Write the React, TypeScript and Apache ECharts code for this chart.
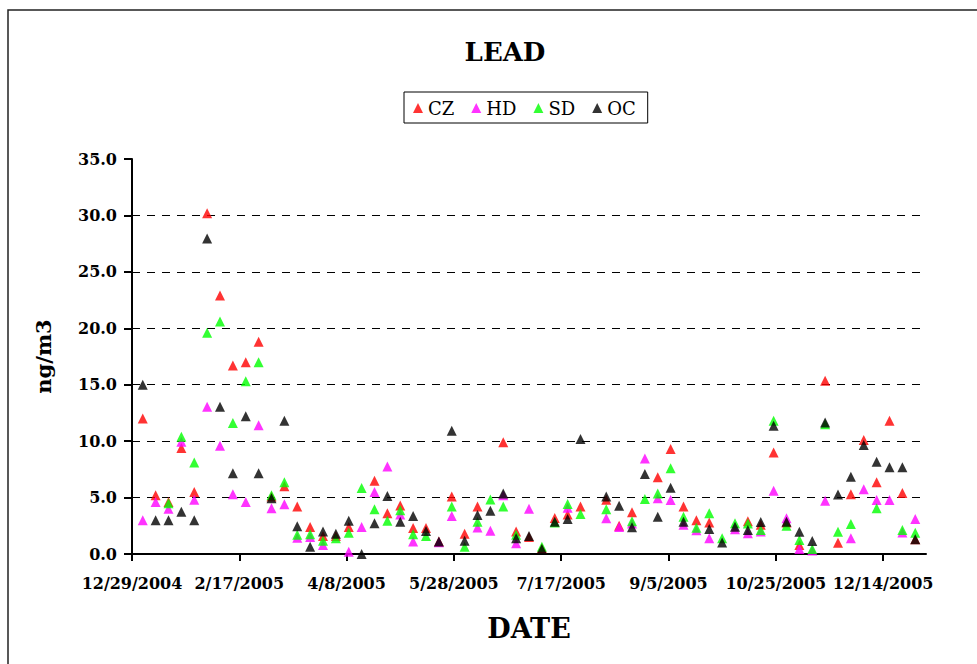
import React, { useEffect, useRef } from "react";
import * as echarts from "echarts";

const sampleDates = [
  "1/3/2005", "1/9/2005", "1/15/2005", "1/21/2005", "1/27/2005",
  "2/2/2005", "2/8/2005", "2/14/2005", "2/20/2005", "2/26/2005",
  "3/4/2005", "3/10/2005", "3/16/2005", "3/22/2005", "3/28/2005",
  "4/3/2005", "4/9/2005", "4/15/2005", "4/21/2005", "4/27/2005",
  "5/3/2005", "5/9/2005", "5/15/2005", "5/21/2005", "5/27/2005",
  "6/2/2005", "6/8/2005", "6/14/2005", "6/20/2005", "6/26/2005",
  "7/2/2005", "7/8/2005", "7/14/2005", "7/20/2005", "7/26/2005",
  "8/1/2005", "8/7/2005", "8/13/2005", "8/19/2005", "8/25/2005", "8/31/2005",
  "9/6/2005", "9/12/2005", "9/18/2005", "9/24/2005", "9/30/2005",
  "10/6/2005", "10/12/2005", "10/18/2005", "10/24/2005", "10/30/2005",
  "11/5/2005", "11/11/2005", "11/17/2005", "11/23/2005", "11/29/2005",
  "12/5/2005", "12/11/2005", "12/17/2005", "12/23/2005", "12/29/2005",
];

const CZ = [
  12.0, 5.2, 4.6, 9.4, 5.5, 30.2, 22.9, 16.7, 17.0, 18.8,
  5.1, 6.0, 4.2, 2.4, 1.6, 1.6, 2.4, null, 6.5, 3.6,
  4.3, 2.3, 2.3, 1.1, 5.1, 1.8, 4.2, null, 9.9, 2.0,
  1.5, 0.5, 3.2, 3.5, 4.2, null, 4.8, 2.5, 3.7, null,
  6.8, 9.3, 4.2, 3.0, 2.8, null, null, 2.9, 2.6, 9.0,
  2.8, 0.8, null, 15.35, 1.0, 5.3, 10.1, 6.35, 11.8, 5.4, 1.3,
];
const HD = [
  3.0, 4.6, 4.0, 9.95, 4.8, 13.05, 9.6, 5.3, 4.6, 11.4,
  4.05, 4.4, 1.45, 1.5, 0.8, null, 0.2, 2.4, 5.5, 7.75,
  3.5, 1.1, null, 1.05, 3.37, null, 2.35, 2.05, 5.2, 0.95,
  4.0, null, null, 4.1, null, null, 3.16, 2.4, 2.7, 8.47,
  4.93, 4.78, 2.6, 2.1, 1.39, null, 2.2, 1.83, 2.0, 5.61,
  3.16, 0.44, 0.3, 4.72, null, 1.39, 5.73, 4.78, 4.78, 1.9, 3.1,
];
const SD = [
  null, null, 4.5, 10.4, 8.1, 19.6, 20.6, 11.6, 15.3, 17.0,
  5.2, 6.35, 1.7, 1.74, 1.18, 1.39, 1.89, 5.85, 3.96, 2.95,
  3.87, 1.76, 1.6, null, 4.2, 0.65, 2.86, 4.84, 4.2, 1.7,
  null, 0.65, 2.8, 4.42, 3.54, null, 3.96, null, 2.9, 4.87,
  5.37, 7.59, 3.31, 2.33, 3.6, 1.39, 2.72, 2.7, 2.13, 11.81,
  2.51, 1.24, 0.44, 11.5, 1.98, 2.66, null, 4.05, null, 2.13, 1.89,
];
const OC = [
  15.0, 3.0, 3.0, 3.75, 3.0, 27.96, 13.05, 7.15, 12.2, 7.15,
  4.95, 11.8, 2.45, 0.65, 2.0, 1.8, 2.95, 0.0, 2.72, 5.14,
  2.86, 3.37, 2.04, 1.1, 10.92, 1.18, 3.45, 3.84, 5.37, 1.39,
  1.6, 0.44, 2.86, 3.1, 10.2, null, 5.1, 4.27, 2.38, 7.09,
  3.31, 5.87, 2.86, null, 2.21, 1.03, 2.42, 2.13, 2.83, 11.37,
  2.86, 1.98, 1.15, 11.66, 5.28, 6.85, 9.65, 8.18, 7.68, 7.68, 1.3,
];

const seriesNames = ["CZ", "HD", "SD", "OC"];
const seriesColors = ["#FF0000", "#FF00FF", "#00FF00", "#000000"];
const seriesValues = [CZ, HD, SD, OC];

const axisStartDate = "12/29/2004";
const axisSpanDays = 370;
const axisStepDays = 50;

const DAY = 86400000;
function parseDate(s: string): number {
  const [m, d, y] = s.split("/").map(Number);
  return Date.UTC(y, m - 1, d);
}
const origin = parseDate(axisStartDate);
function toDay(s: string): number {
  return Math.round((parseDate(s) - origin) / DAY);
}
function dayLabel(v: number): string {
  const dt = new Date(origin + v * DAY);
  return `${dt.getUTCMonth() + 1}/${dt.getUTCDate()}/${dt.getUTCFullYear()}`;
}

const FONT = "DejaVu Serif";

export default function App() {
  const ref = useRef<HTMLDivElement>(null);
  useEffect(() => {
    if (!ref.current) return;
    const chart = echarts.init(ref.current, null, { renderer: "svg" });
    const xTickVals: number[] = [];
    for (let v = 0; v < axisSpanDays; v += axisStepDays) xTickVals.push(v);

    const series = seriesNames.map((name, i) => ({
      name,
      type: "scatter",
      symbol: "triangle",
      symbolSize: [10, 10],
      itemStyle: { color: seriesColors[i] },
      data: sampleDates
        .map((d, k) => [toDay(d), seriesValues[i][k]])
        .filter((p) => p[1] !== null && p[1] !== undefined),
      z: 2 + i,
    }));

    chart.setOption({
      animation: false,
      backgroundColor: "#ffffff",
      title: {
        text: "LEAD",
        left: 500,
        top: 34,
        textAlign: "center",
        textStyle: { fontFamily: FONT, fontWeight: "bold", fontSize: 26, color: "#000" },
      },
      legend: {
        data: seriesNames,
        left: 404,
        top: 92,
        icon: "triangle",
        itemWidth: 10,
        itemHeight: 10,
        itemGap: 17,
        padding: [7, 12, 6, 9],
        borderColor: "#000",
        borderWidth: 1,
        textStyle: { fontFamily: FONT, fontSize: 18, color: "#000" },
      },
      grid: { left: 132, right: 51, top: 159, bottom: 110, containLabel: false },
      xAxis: {
        type: "value",
        min: 0,
        max: axisSpanDays,
        interval: axisStepDays,
        name: "DATE",
        nameLocation: "middle",
        nameGap: 61,
        nameTextStyle: { fontFamily: FONT, fontWeight: "bold", fontSize: 27, color: "#000" },
        axisLine: { show: true, lineStyle: { color: "#000", width: 2 } },
        axisTick: { show: true, length: 7, lineStyle: { color: "#000", width: 2 }, customValues: xTickVals },
        axisLabel: {
          customValues: xTickVals,
          margin: 21,
          formatter: (v: number) => dayLabel(v),
          fontFamily: FONT,
          fontWeight: "bold",
          fontSize: 16,
          color: "#000",
        },
        splitLine: { show: false },
      },
      yAxis: {
        type: "value",
        min: 0,
        max: 35,
        interval: 5,
        name: "ng/m3",
        nameLocation: "middle",
        nameGap: 78,
        nameTextStyle: { fontFamily: FONT, fontWeight: "bold", fontSize: 21, color: "#000" },
        axisLine: { show: true, lineStyle: { color: "#000", width: 2 } },
        axisTick: { show: true, length: 8, lineStyle: { color: "#000", width: 2 } },
        axisLabel: {
          margin: 15,
          formatter: (v: number) => v.toFixed(1),
          fontFamily: FONT,
          fontWeight: "bold",
          fontSize: 16,
          color: "#000",
        },
        splitLine: {
          show: true,
          showMinLine: false,
          showMaxLine: false,
          lineStyle: { color: "#000", width: 1, type: [8, 7] },
        },
      },
      graphic: [
        {
          type: "rect",
          shape: { x: 8, y: 10, width: 1000, height: 1000 },
          style: { fill: "none", stroke: "#222", lineWidth: 1.5 },
          silent: true,
          z: 0,
        },
      ],
      series,
    });
    return () => chart.dispose();
  }, []);
  return (
    <div
      ref={ref}
      style={{ position: "absolute", left: 0, top: 0, width: 977, height: 664 }}
    />
  );
}
